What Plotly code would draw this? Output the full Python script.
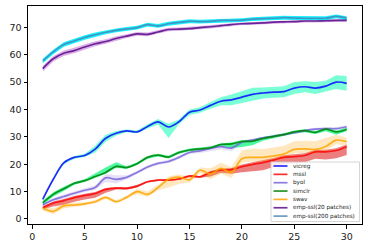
import numpy as np
import plotly.graph_objects as go

epochs = list(range(1, 31))

vicreg = [7.2, 14.5, 20.5, 22.5, 23.2, 25.5, 29.5, 31.3, 32.2, 31.8, 33.8, 35.5, 33.6, 35.5, 39.0,
          39.8, 41.5, 43.0, 43.5, 44.5, 45.5, 46.0, 46.3, 46.5, 47.8, 48.3, 47.8, 48.5, 50.0, 49.5]
vicreg_lo = [0.3, 0.4, 0.5, 0.5, 0.6, 1.2, 1.3, 0.8, 0.5, 0.5, 0.8, 1.0, 4.0, 0.8, 1.0,
             1.0, 1.2, 1.5, 2.0, 2.2, 2.4, 2.0, 2.0, 2.0, 2.2, 2.0, 2.2, 2.0, 2.5, 2.7]
vicreg_hi = [0.3, 0.4, 0.5, 0.5, 0.6, 1.2, 1.3, 0.8, 0.5, 0.5, 0.8, 1.0, 1.2, 0.8, 1.0,
             1.0, 1.2, 1.5, 2.0, 2.2, 2.4, 2.0, 2.0, 2.0, 2.2, 2.0, 2.2, 2.0, 2.5, 2.7]

mssl = [4.1, 5.8, 6.7, 7.8, 8.6, 9.3, 10.8, 11.3, 11.2, 12.0, 13.6, 14.2, 14.2, 14.6, 15.7,
        15.4, 17.0, 17.9, 18.0, 19.1, 19.9, 20.6, 21.5, 22.5, 22.8, 23.2, 24.5, 24.5, 25.0, 26.4]
mssl_lo = [0.5, 1.2, 1.5, 1.5, 1.5, 1.5, 1.2, 0.5, 0.5, 0.5, 0.3, 0.3, 0.3, 0.3, 0.5,
           0.3, 1.5, 1.0, 1.5, 2.0, 2.5, 2.8, 2.5, 2.5, 2.5, 2.5, 2.5, 2.8, 2.8, 3.0]
mssl_hi = [0.5, 0.6, 0.6, 0.6, 0.6, 0.6, 0.5, 0.4, 0.4, 0.4, 0.3, 0.3, 0.3, 0.3, 0.4,
           0.3, 0.5, 0.5, 0.6, 0.8, 0.8, 0.8, 0.8, 0.8, 0.8, 0.8, 0.8, 0.8, 0.8, 0.8]

byol = [5.1, 7.0, 8.2, 9.4, 10.5, 11.5, 15.0, 14.5, 15.2, 17.0, 19.0, 20.3, 21.0, 22.5, 24.3,
        24.9, 25.8, 26.4, 25.9, 28.0, 28.8, 29.6, 30.2, 30.8, 31.5, 32.3, 32.8, 33.0, 33.0, 33.7]
byol_lo = [0.4, 0.7, 0.7, 0.7, 0.7, 0.8, 1.5, 1.5, 0.8, 0.6, 0.6, 0.6, 0.6, 0.6, 0.6,
           0.8, 1.0, 1.0, 1.2, 0.6, 0.5, 0.5, 0.5, 0.5, 0.5, 0.5, 0.5, 0.5, 0.5, 0.5]
byol_hi = [0.4, 0.7, 0.7, 0.7, 0.7, 0.8, 1.5, 1.5, 0.8, 0.6, 0.6, 0.6, 0.6, 0.6, 0.6,
           0.8, 1.0, 1.0, 1.2, 0.6, 0.5, 0.5, 0.5, 0.5, 0.5, 0.5, 0.5, 0.5, 0.5, 0.5]

simclr = [5.9, 9.0, 11.0, 13.0, 14.0, 15.5, 17.0, 19.2, 18.8, 20.2, 22.5, 23.3, 22.6, 24.3, 25.2,
          25.6, 26.0, 27.2, 27.4, 28.3, 28.4, 29.4, 30.1, 30.8, 31.8, 32.3, 31.6, 32.8, 31.8, 32.8]
simclr_lo = [0.8, 0.8, 0.8, 0.5, 0.5, 0.5, 0.5, 0.5, 0.5, 0.5, 0.5, 0.5, 0.5, 0.5, 0.5,
             0.5, 0.5, 0.6, 1.5, 2.0, 1.5, 0.8, 0.6, 0.6, 0.6, 0.6, 0.6, 0.8, 1.0, 0.8]
simclr_hi = [0.8, 0.8, 0.8, 0.5, 0.5, 1.2, 1.8, 1.5, 0.5, 0.5, 0.5, 0.5, 0.5, 0.5, 0.5,
             0.5, 0.5, 0.5, 0.5, 0.5, 0.5, 0.5, 0.5, 0.5, 0.5, 0.5, 0.5, 0.5, 0.5, 0.5]

swav = [3.9, 2.8, 4.8, 5.1, 5.5, 6.3, 7.9, 6.3, 7.9, 10.0, 9.0, 11.5, 14.5, 15.3, 14.3,
        17.8, 16.5, 18.5, 17.0, 22.0, 22.5, 22.5, 23.0, 23.7, 25.4, 25.6, 25.4, 26.5, 28.8, 28.2]
swav_lo = [1.0, 1.0, 1.0, 0.8, 0.6, 0.6, 0.6, 0.6, 0.6, 1.0, 1.0, 1.0, 3.0, 2.5, 1.0,
           1.0, 2.0, 2.0, 2.0, 1.5, 1.5, 1.5, 1.5, 1.5, 1.5, 1.5, 1.5, 1.5, 1.5, 1.5]
swav_hi = [1.0, 1.0, 1.0, 0.8, 0.6, 0.6, 0.6, 0.6, 0.6, 1.0, 1.0, 1.0, 1.0, 1.0, 1.0,
           1.0, 2.0, 2.0, 2.0, 3.0, 3.2, 3.0, 3.0, 3.0, 3.0, 3.0, 3.0, 3.0, 2.0, 1.5]

emp20 = [54.9, 58.5, 60.5, 61.5, 62.8, 64.0, 64.8, 65.9, 66.8, 67.6, 67.4, 68.3, 69.2, 69.3, 69.5,
         69.9, 70.2, 70.6, 71.0, 71.3, 71.4, 71.6, 71.9, 72.0, 72.1, 72.3, 72.3, 72.4, 72.5, 72.5]
emp20_sd = [1.0, 1.0, 1.0, 1.0, 1.0, 0.9, 0.8, 0.8, 0.7, 0.7, 0.7, 0.6, 0.6, 0.6, 0.6,
            0.6, 0.6, 0.6, 0.5, 0.5, 0.5, 0.5, 0.5, 0.5, 0.5, 0.5, 0.5, 0.5, 0.5, 0.5]

emp200 = [57.7, 61.0, 63.7, 65.0, 66.3, 67.3, 68.2, 68.9, 69.4, 69.9, 71.0, 70.5, 71.3, 71.8, 72.2,
          72.1, 72.2, 72.5, 72.5, 72.6, 73.0, 73.2, 73.3, 73.5, 73.4, 73.3, 73.3, 73.3, 74.0, 73.3]
emp200_sd = [0.8, 0.8, 0.8, 0.8, 0.8, 0.8, 0.7, 0.7, 0.7, 0.7, 0.7, 0.7, 0.7, 0.7, 0.7,
             0.7, 0.7, 0.7, 0.7, 0.7, 0.7, 0.7, 0.7, 0.7, 0.7, 0.7, 0.7, 0.7, 0.7, 0.7]

names = ["vicreg", "mssl", "byol", "simclr", "swav", "emp-ssl(20 patches)", "emp-ssl(200 patches)"]

series = [
    (vicreg, vicreg_lo, vicreg_hi),
    (mssl, mssl_lo, mssl_hi),
    (byol, byol_lo, byol_hi),
    (simclr, simclr_lo, simclr_hi),
    (swav, swav_lo, swav_hi),
    (emp20, emp20_sd, emp20_sd),
    (emp200, emp200_sd, emp200_sd),
]

line_colors = ["rgba(0,0,255,0.82)", "rgba(255,0,0,0.82)", "rgba(120,100,220,0.85)",
               "rgba(0,128,0,0.85)", "rgba(255,165,0,0.85)", "rgba(75,0,130,0.8)",
               "rgba(70,130,180,0.8)"]
band_colors = ["rgba(90,255,205,0.8)", "rgba(225,40,40,0.6)", "rgba(147,112,219,0.22)",
               "rgba(0,245,120,0.7)", "rgba(255,165,0,0.25)", "rgba(190,100,210,0.5)",
               "rgba(0,240,255,0.9)"]

fig = go.Figure()

# bands (linear, like fill_between)
for (m, lo, hi), bc in zip(series, band_colors):
    m_ = np.array(m)
    lower = m_ - np.array(lo)
    upper = m_ + np.array(hi)
    fig.add_trace(go.Scatter(x=epochs, y=lower, mode="lines", line=dict(width=0),
                             showlegend=False, hoverinfo="skip"))
    fig.add_trace(go.Scatter(x=epochs, y=upper, mode="lines", line=dict(width=0),
                             fill="tonexty", fillcolor=bc, showlegend=False, hoverinfo="skip"))

# smoothed lines
for (m, lo, hi), lc, nm in zip(series, line_colors, names):
    fig.add_trace(go.Scatter(x=epochs, y=m, mode="lines", name=nm,
                             line=dict(color=lc, width=1.7, shape="spline", smoothing=1.0),
                             showlegend=False))

W, H = 368, 248
ML, MR, MT, MB = 28, 6, 6, 24
pw, ph = W - ML - MR, H - MT - MB


def px2x(px):
    return (px - ML) / pw


def py2y(py):
    return (H - MB - py) / ph


shapes = []
annotations = []
# manual legend box
shapes.append(dict(type="rect", xref="paper", yref="paper",
                   x0=px2x(271), x1=px2x(359.5), y0=py2y(221.5), y1=py2y(162),
                   line=dict(color="#cccccc", width=0.8), fillcolor="rgba(255,255,255,0.85)",
                   layer="above"))
for i, (nm, lc) in enumerate(zip(names, line_colors)):
    yc = 166 + 8.35 * i
    shapes.append(dict(type="line", xref="paper", yref="paper",
                       x0=px2x(273.5), x1=px2x(287.5), y0=py2y(yc), y1=py2y(yc),
                       line=dict(color=lc, width=1.7), layer="above"))
    annotations.append(dict(xref="paper", yref="paper", x=px2x(290.5), y=py2y(yc),
                            text=nm, showarrow=False, xanchor="left", yanchor="middle",
                            font=dict(size=5.7, color="#222222", family="DejaVu Sans")))

axis_common = dict(showline=True, mirror=True, linecolor="black", linewidth=1,
                   ticks="outside", ticklen=3.5, tickwidth=1, tickcolor="black",
                   showgrid=False, zeroline=False,
                   tickfont=dict(size=9.5, color="#222222", family="DejaVu Sans"))

fig.update_layout(
    width=W, height=H,
    margin=dict(l=ML, r=MR, t=MT, b=MB, pad=0),
    paper_bgcolor="white", plot_bgcolor="white",
    showlegend=False,
    xaxis=dict(range=[-0.41, 31.46], tickmode="array", tickvals=[0, 5, 10, 15, 20, 25, 30],
               **axis_common),
    yaxis=dict(range=[-1.83, 77.78], tickmode="array", tickvals=[0, 10, 20, 30, 40, 50, 60, 70],
               **axis_common),
    shapes=shapes, annotations=annotations,
)

fig.write_html("out.html", config={"displayModeBar": False},
               post_script="document.body.style.margin='0px';document.body.style.overflow='hidden';")
